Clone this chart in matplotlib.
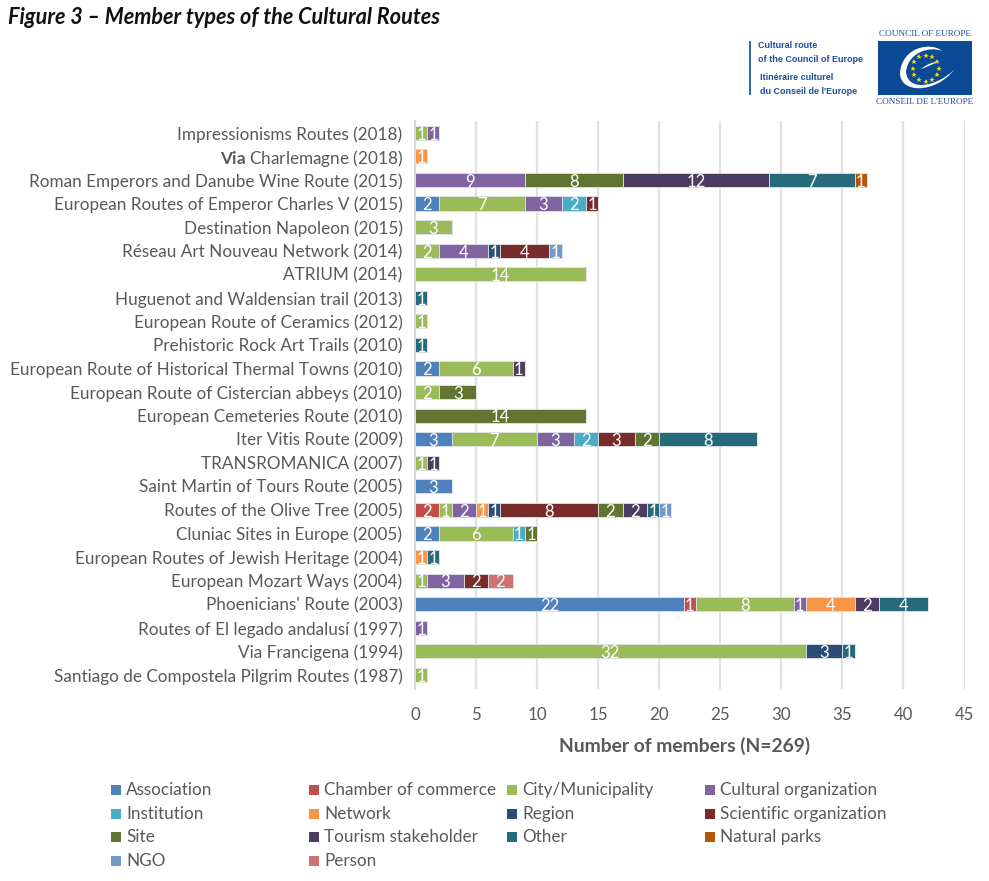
import numpy as np
from matplotlib import pyplot as plt
from matplotlib.patches import Rectangle, PathPatch
from matplotlib.path import Path

plt.rcParams['font.family'] = ['Lato', 'DejaVu Sans']
plt.rcParams['mathtext.fontset'] = 'custom'
plt.rcParams['mathtext.bf'] = 'Lato:bold'
plt.rcParams['mathtext.rm'] = 'Lato'

routes = [
    'Impressionisms Routes (2018)',
    r'$\mathbf{Via}$ Charlemagne (2018)',
    'Roman Emperors and Danube Wine Route (2015)',
    'European Routes of Emperor Charles V (2015)',
    'Destination Napoleon (2015)',
    'Réseau Art Nouveau Network (2014)',
    'ATRIUM (2014)',
    'Huguenot and Waldensian trail (2013)',
    'European Route of Ceramics (2012)',
    'Prehistoric Rock Art Trails (2010)',
    'European Route of Historical Thermal Towns (2010)',
    'European Route of Cistercian abbeys (2010)',
    'European Cemeteries Route (2010)',
    'Iter Vitis Route (2009)',
    'TRANSROMANICA (2007)',
    'Saint Martin of Tours Route (2005)',
    'Routes of the Olive Tree (2005)',
    'Cluniac Sites in Europe (2005)',
    'European Routes of Jewish Heritage (2004)',
    'European Mozart Ways (2004)',
    "Phoenicians' Route (2003)",
    'Routes of El legado andalusí (1997)',
    'Via Francigena (1994)',
    'Santiago de Compostela Pilgrim Routes (1987)',
]

# one list per member type, same order as routes (top to bottom)
association = [0, 0, 0, 2, 0, 0, 0, 0, 0, 0, 2, 0, 0, 3, 0, 3, 0, 2, 0, 0, 22, 0, 0, 0]
chamber = [0, 0, 0, 0, 0, 0, 0, 0, 0, 0, 0, 0, 0, 0, 0, 0, 2, 0, 0, 0, 1, 0, 0, 0]
city = [1, 0, 0, 7, 3, 2, 14, 0, 1, 0, 6, 2, 0, 7, 1, 0, 1, 6, 0, 1, 8, 0, 32, 1]
cultural = [1, 0, 9, 3, 0, 4, 0, 0, 0, 0, 0, 0, 0, 3, 0, 0, 2, 0, 0, 3, 1, 1, 0, 0]
institution = [0, 0, 0, 2, 0, 0, 0, 0, 0, 0, 0, 0, 0, 2, 0, 0, 0, 1, 0, 0, 0, 0, 0, 0]
network = [0, 1, 0, 0, 0, 0, 0, 0, 0, 0, 0, 0, 0, 0, 0, 0, 1, 0, 1, 0, 4, 0, 0, 0]
region = [0, 0, 0, 0, 0, 1, 0, 0, 0, 0, 0, 0, 0, 0, 0, 0, 1, 0, 0, 0, 0, 0, 3, 0]
scientific = [0, 0, 0, 1, 0, 4, 0, 0, 0, 0, 0, 0, 0, 3, 0, 0, 8, 0, 0, 2, 0, 0, 0, 0]
site = [0, 0, 8, 0, 0, 0, 0, 0, 0, 0, 0, 3, 14, 2, 0, 0, 2, 1, 0, 0, 0, 0, 0, 0]
tourism = [0, 0, 12, 0, 0, 0, 0, 0, 0, 0, 1, 0, 0, 0, 1, 0, 2, 0, 0, 0, 2, 0, 0, 0]
other = [0, 0, 7, 0, 0, 0, 0, 1, 0, 1, 0, 0, 0, 8, 0, 0, 1, 0, 1, 0, 4, 0, 1, 0]
natural_parks = [0, 0, 1, 0, 0, 0, 0, 0, 0, 0, 0, 0, 0, 0, 0, 0, 0, 0, 0, 0, 0, 0, 0, 0]
ngo = [0, 0, 0, 0, 0, 1, 0, 0, 0, 0, 0, 0, 0, 0, 0, 0, 1, 0, 0, 0, 0, 0, 0, 0]
person = [0, 0, 0, 0, 0, 0, 0, 0, 0, 0, 0, 0, 0, 0, 0, 0, 0, 0, 0, 2, 0, 0, 0, 0]

series_names = ['Association', 'Chamber of commerce', 'City/Municipality',
                'Cultural organization', 'Institution', 'Network', 'Region',
                'Scientific organization', 'Site', 'Tourism stakeholder',
                'Other', 'Natural parks', 'NGO', 'Person']
series_values = [association, chamber, city, cultural, institution, network,
                 region, scientific, site, tourism, other, natural_parks, ngo,
                 person]
colors = ['#4F81BD', '#C0504D', '#9BBB59', '#8064A2', '#4BACC6', '#F79646',
          '#2C4D75', '#772C2A', '#5F7530', '#4D3B62', '#276A7C', '#B65708',
          '#729ACA', '#CD7371']

TEXT = '#595959'

fig = plt.figure(figsize=(9.89, 8.81), dpi=100)
ax = fig.add_axes([415 / 989, 1 - 689 / 881, 549.5 / 989, 568 / 881])

# stacked bars
y = np.arange(len(routes))
left = np.zeros(len(routes))
for name, vals, col in zip(series_names, series_values, colors):
    vals = np.array(vals, dtype=float)
    ax.barh(y, vals, left=left, height=0.6, color=col, edgecolor='#dde3ea',
            linewidth=0.6, label=name, zorder=3)
    for i, v in enumerate(vals):
        if v > 0:
            ax.text(left[i] + v / 2, i + 0.08, str(int(v)), color='white',
                    fontsize=12, ha='center', va='center', zorder=4)
    left += vals

ax.set_xlim(0, 45)
ax.set_ylim(len(routes) - 0.4, -0.5)
ax.set_xticks(range(0, 46, 5))
ax.set_yticks(y)
ax.set_yticklabels(routes, fontsize=12.3, color=TEXT, va='center_baseline')
ax.tick_params(axis='x', length=0, labelsize=12.2, labelcolor=TEXT, pad=13)
ax.tick_params(axis='y', length=0, pad=9)
ax.grid(axis='x', color='#e1e1e1', linewidth=1.6, zorder=0)
ax.set_axisbelow(True)
for s in ['top', 'right', 'bottom']:
    ax.spines[s].set_visible(False)
ax.spines['left'].set_color('#d4d4d4')
ax.spines['left'].set_linewidth(1.4)

# overlay in pixel coordinates for title, axis label, legend and logo
over = fig.add_axes([0, 0, 1, 1], zorder=5)
over.set_xlim(0, 989)
over.set_ylim(881, 0)
over.axis('off')
over.patch.set_alpha(0)

over.text(8, 18, 'Figure 3 – Member types of the Cultural Routes', fontsize=15.6,
          fontweight='bold', fontstyle='italic', color='#111111', va='center')
over.text(685, 746, 'Number of members (N=269)', fontsize=13.9, color=TEXT,
          fontweight='bold', ha='center', va='center')

# legend, filled row by row
leg_x = [111, 309, 507, 705]
leg_y = [790, 814, 837, 861]
for k, (name, col) in enumerate(zip(series_names, colors)):
    lx = leg_x[k % 4]
    ly = leg_y[k // 4]
    over.add_patch(Rectangle((lx, ly - 5.5), 10, 10, color=col, lw=0))
    over.text(lx + 15, ly, name, fontsize=12.3, color=TEXT, va='center')

# logo
LOGO = '#1d4f9c'
over.add_patch(Rectangle((749, 41), 2, 54, color='#2a6db5', lw=0))
for tx, ty, s in [(758, 46, 'Cultural route'), (758, 59.5, 'of the Council of Europe'),
                  (760, 77, 'Itinéraire culturel'), (760, 91, "du Conseil de l'Europe")]:
    over.text(tx, ty, s, fontsize=6.5, fontweight='bold', color=LOGO, va='center',
              family='Liberation Sans')
over.text(925, 33.5, 'COUNCIL OF EUROPE', fontsize=6.6, color=LOGO, ha='center',
          va='center', family='Liberation Serif')
over.text(925, 102.5, "CONSEIL DE L'EUROPE", fontsize=6.6, color=LOGO, ha='center',
          va='center', family='Liberation Serif')
over.add_patch(Rectangle((878, 41), 94, 54, color='#0b4a94', lw=0))
theta = np.deg2rad(np.arange(0, 360, 30))
over.plot(925.7 + 13 * np.cos(theta), 68.5 + 13 * np.sin(theta), ls='', marker='*',
          ms=4, color='#f5d60c', mew=0)
swoosh = [
    (Path.MOVETO, (942, 51)), (Path.CURVE4, (932, 42)), (Path.CURVE4, (903, 46)),
    (Path.CURVE4, (900, 72)), (Path.CURVE4, (899, 94)), (Path.CURVE4, (935, 94)),
    (Path.CURVE4, (954, 70)), (Path.CURVE4, (936, 87)), (Path.CURVE4, (908, 92)),
    (Path.CURVE4, (906, 72)), (Path.CURVE4, (908, 52)), (Path.CURVE4, (930, 46)),
    (Path.CURVE4, (942, 51)), (Path.CLOSEPOLY, (942, 51)),
]
codes, verts = zip(*swoosh)
over.add_patch(PathPatch(Path(verts, codes), facecolor='white', edgecolor='none'))
tail = [
    (Path.MOVETO, (921, 69)), (Path.CURVE3, (930, 62)), (Path.CURVE3, (937, 62)),
    (Path.CURVE3, (930, 66)), (Path.CURVE3, (921, 69)), (Path.CLOSEPOLY, (921, 69)),
]
codes, verts = zip(*tail)
over.add_patch(PathPatch(Path(verts, codes), facecolor='white', edgecolor='none'))

plt.savefig('out.png', dpi=100)
